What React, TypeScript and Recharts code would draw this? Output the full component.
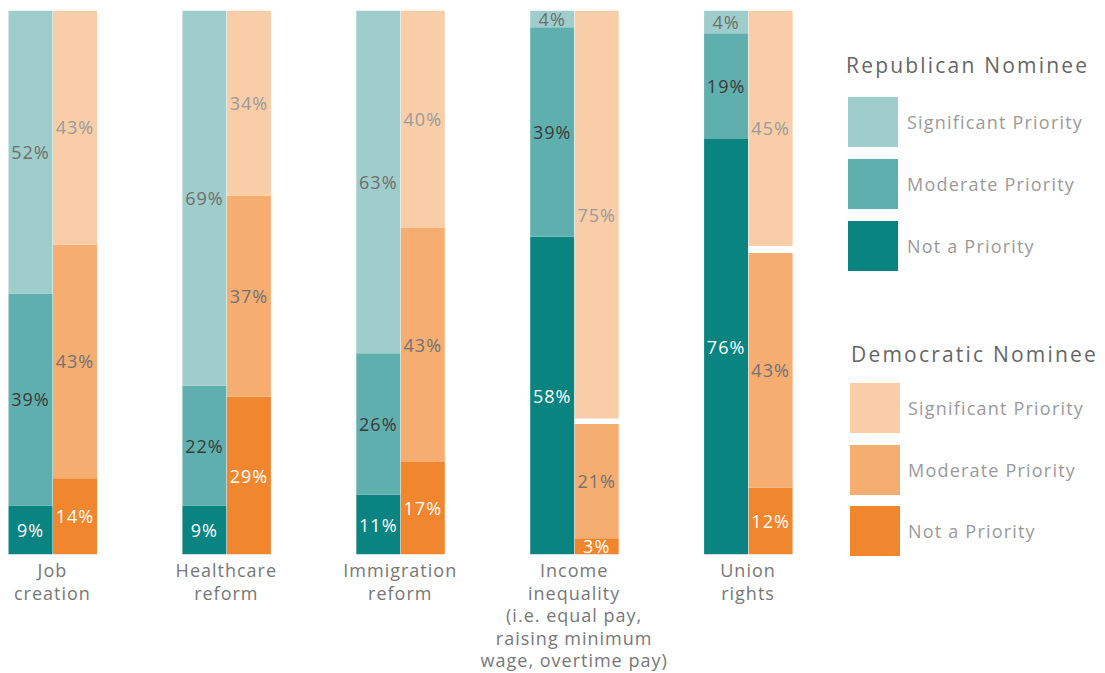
import React from 'react';
import { BarChart, Bar, XAxis, YAxis, LabelList, Legend } from 'recharts';

const categoryLines: string[][] = [
  ['Job', 'creation'],
  ['Healthcare', 'reform'],
  ['Immigration', 'reform'],
  ['Income', 'inequality', '(i.e. equal pay,', 'raising minimum', 'wage, overtime pay)'],
  ['Union', 'rights'],
];
const categories = categoryLines.map((l) => l.join(' '));

// Shares (%); labels show the rounded values.
const repNotPriority = [9, 9, 11, 58.4, 76.4];
const repModerate = [39, 22, 26, 38.5, 19.4];
const repSignificant = [52, 69, 63, 3.5, 4.2];
const demNotPriority = [14, 29, 17, 3, 12.3];
const demModerate = [43, 37, 43, 21, 43.1];
const demBlank = [0, 0, 0, 1, 1.3];
const demSignificant = [43, 34, 40, 75, 44.6];

const priorityLevels = ['Significant Priority', 'Moderate Priority', 'Not a Priority'];
const groupTitles = ['Republican Nominee', 'Democratic Nominee'];
const repColors = ['#9FCDCB', '#5FAFAE', '#0A8481'];
const demColors = ['#F8CDA8', '#F5AD72', '#F0862D'];
const repTextColors = ['#6E6E6E', '#3A3A3A', '#FFFFFF'];
const demTextColors = ['#9A9A9A', '#727272', '#FFFFFF'];

const FONT = '"Open Sans", "DejaVu Sans", sans-serif';
const W = 1097;
const H = 665;
const MARGIN = { top: 2.5, right: 270, bottom: 0.5, left: -42.5 };

const data = categories.map((c, i) => ({
  category: c,
  repNot: repNotPriority[i],
  repMod: repModerate[i],
  repSig: repSignificant[i],
  demNot: demNotPriority[i],
  demMod: demModerate[i],
  demBlank: demBlank[i],
  demSig: demSignificant[i],
}));

const makeLabel = (color: string) => (props: any) => {
  const vb = props.viewBox || props;
  const x = Number(vb.x ?? props.x);
  const y = Number(vb.y ?? props.y);
  const width = Number(vb.width ?? props.width);
  const height = Number(vb.height ?? props.height);
  const value = props.value;
  if (value === undefined || value === null || value === 0) return null;
  const top = Math.max(y, MARGIN.top);
  const cy = (top + y + height) / 2;
  return (
    <text
      x={x + width / 2}
      y={cy}
      fill={color}
      fontSize={18}
      fontFamily={FONT}
      letterSpacing={1}
      textAnchor="middle"
      dominantBaseline="central"
    >
      {Math.round(Number(value))}%
    </text>
  );
};

const CategoryTick = (props: any) => {
  const { x, y, payload } = props;
  const idx = categories.indexOf(payload.value);
  const lines = idx >= 0 ? categoryLines[idx] : [String(payload.value)];
  return (
    <text x={x} y={y} fill="#777777" fontSize={18} fontFamily={FONT} letterSpacing={1} textAnchor="middle">
      {lines.map((ln, i) => (
        <tspan key={i} x={x} y={y + 22.5 + i * 22.5}>
          {ln}
        </tspan>
      ))}
    </text>
  );
};

const legendGroups = [
  { title: groupTitles[0], colors: repColors, titleLeft: 838, titleCenter: 57, swLeft: 840, swTop: 89, step: 62, textLeft: 899 },
  { title: groupTitles[1], colors: demColors, titleLeft: 843, titleCenter: 346, swLeft: 842, swTop: 375, step: 61.5, textLeft: 900 },
];

const LegendContent = () => (
  <div style={{ position: 'relative', width: W, height: H, pointerEvents: 'none', overflow: 'visible' }}>
    {legendGroups.map((g, gi) => (
      <React.Fragment key={gi}>
        <div
          style={{
            position: 'absolute',
            left: g.titleLeft,
            top: g.titleCenter - 15,
            height: 30,
            lineHeight: '30px',
            fontSize: 21,
            fontFamily: FONT,
            color: '#666666',
            whiteSpace: 'nowrap',
            letterSpacing: 2.2,
          }}
        >
          {g.title}
        </div>
        {priorityLevels.map((lvl, li) => (
          <React.Fragment key={li}>
            <div
              style={{
                position: 'absolute',
                left: g.swLeft,
                top: g.swTop + li * g.step,
                width: 50,
                height: 50,
                background: g.colors[li],
              }}
            />
            <div
              style={{
                position: 'absolute',
                left: g.textLeft,
                top: g.swTop + li * g.step + 10,
                height: 30,
                lineHeight: '30px',
                fontSize: 18,
                fontFamily: FONT,
                color: '#9A9A9A',
                whiteSpace: 'nowrap',
                letterSpacing: 1.2,
              }}
            >
              {lvl}
            </div>
          </React.Fragment>
        ))}
      </React.Fragment>
    ))}
  </div>
);

export default function App() {
  return (
    <div style={{ width: W, height: H, fontFamily: FONT }}>
      <BarChart width={W} height={H} data={data} margin={MARGIN} barGap={0.5} barSize={44} style={{ overflow: 'visible' }}>
        <XAxis
          dataKey="category"
          interval={0}
          axisLine={false}
          tickLine={false}
          tickSize={0}
          tickMargin={0}
          height={118}
          tick={<CategoryTick />}
        />
        <YAxis hide domain={[0, 100]} allowDataOverflow type="number" />
        <Legend
          layout="horizontal"
          verticalAlign="middle"
          align="center"
          wrapperStyle={{ position: 'absolute', left: 0, top: 0, width: W, height: H, pointerEvents: 'none', overflow: 'visible' }}
          content={<LegendContent />}
        />
        <Bar dataKey="repNot" stackId="r" fill={repColors[2]} isAnimationActive={false} name={priorityLevels[2]}>
          <LabelList dataKey="repNot" content={makeLabel(repTextColors[2])} />
        </Bar>
        <Bar dataKey="repMod" stackId="r" fill={repColors[1]} isAnimationActive={false} name={priorityLevels[1]}>
          <LabelList dataKey="repMod" content={makeLabel(repTextColors[1])} />
        </Bar>
        <Bar dataKey="repSig" stackId="r" fill={repColors[0]} isAnimationActive={false} name={priorityLevels[0]}>
          <LabelList dataKey="repSig" content={makeLabel(repTextColors[0])} />
        </Bar>
        <Bar dataKey="demNot" stackId="d" fill={demColors[2]} isAnimationActive={false} name={priorityLevels[2]}>
          <LabelList dataKey="demNot" content={makeLabel(demTextColors[2])} />
        </Bar>
        <Bar dataKey="demMod" stackId="d" fill={demColors[1]} isAnimationActive={false} name={priorityLevels[1]}>
          <LabelList dataKey="demMod" content={makeLabel(demTextColors[1])} />
        </Bar>
        <Bar dataKey="demBlank" stackId="d" fill="#FFFFFF" isAnimationActive={false} legendType="none" />
        <Bar dataKey="demSig" stackId="d" fill={demColors[0]} isAnimationActive={false} name={priorityLevels[0]}>
          <LabelList dataKey="demSig" content={makeLabel(demTextColors[0])} />
        </Bar>
      </BarChart>
    </div>
  );
}
